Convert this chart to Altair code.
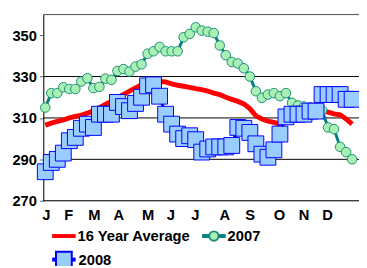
import altair as alt
import pandas as pd

weeks = list(range(1, 53))
avg16 = [306.5, 307.5, 308.3, 309, 310, 310.8, 311.3, 312.3, 313.5, 315,
         316.5, 318, 319.8, 321.3, 323, 324.5, 326, 326.8, 327.3, 327.6,
         327.4, 326.5, 325.8, 325.3, 324.8, 324.2, 323.7, 323, 322, 321.3,
         320, 319, 318, 316.8, 314.5, 311, 309.5, 308.5, 307.8, 307,
         308, 309, 310, 311, 312.5, 313.3, 313.3, 312.8, 312, 311.5,
         309.5, 307]
y2007 = [315, 322, 322, 324.8, 324, 324, 327.6, 329.2, 324.4, 325,
         329, 328.4, 332.7, 333.6, 332.4, 334.8, 335.9, 341, 342.2, 344.3,
         342.2, 342.2, 342.2, 349, 350.6, 353.8, 352.2, 351.7, 351, 345,
         340.3, 337, 336.3, 334, 330, 322.9, 319.7, 321.3, 322, 320.5,
         322, 317.3, 316, 315.5, 315, 314.5, 313.7, 305.4, 304.6, 296,
         293.5, 290]
y2008 = [284, 288.5, 290, 293, 299, 300.6, 305, 307, 305.4, 311.8,
         311.8, 311.8, 317.5, 315.5, 313.5, 317, 320, 325.5, 326, 320.5,
         311.8, 307, 302.2, 300, 301.4, 299.5, 293.5, 295, 296, 296,
         296, 296.7, 305.4, 305, 303, 297.5, 292.5, 291, 294.6, 302.2,
         310.5, 311.8, 311.8, 311.8, 313.3, 313.3, 321.3, 321.3, 321.3, 321.3,
         319, 319]
months = ["J", "F", "M", "A", "M", "J", "J", "A", "S", "O", "N", "D"]
month_pos = [1.16, 4.91, 9.15, 13.22, 18.11, 21.86, 25.93, 30.82, 35.06, 39.94, 44.02, 47.93]
y_ticks = [270, 290, 310, 330, 350]
grid_vals = [290, 310, 330]

FONT = "Liberation Sans"
W, H = 322, 190

df = pd.DataFrame({"week": weeks, "avg": avg16, "y2007": y2007, "y2008": y2008})
mdf = pd.DataFrame({"pos": month_pos, "m": months})
gdf = pd.DataFrame({"v": grid_vals})

xs = alt.Scale(domain=[0.674, 53.14], nice=False, zero=False)
ys = alt.Scale(domain=[270, 360], nice=False, zero=False)
yaxis = alt.Axis(values=y_ticks, title=None, grid=False, labelFont=FONT,
                 labelFontSize=15, labelFontWeight="bold", labelColor="#000",
                 tickSize=4, tickColor="#666", domainColor="#000", labelPadding=3)


def Y(field):
    return alt.Y(field, scale=ys, axis=yaxis)


def X(field):
    return alt.X(field, scale=xs, axis=None)


base = alt.Chart(df)

grid = alt.Chart(gdf).mark_rule(color="#000000", strokeWidth=1).encode(y=Y("v:Q"))
top = alt.Chart(alt.Data(values=[{"v": 360}])).mark_rule(color="#555555", strokeWidth=1).encode(
    y=Y("v:Q"))

avg_line = base.mark_line(color="#FF0000", strokeWidth=5).encode(x=X("week:Q"), y=Y("avg:Q"))
l07 = base.mark_line(color="#008080", strokeWidth=3).encode(x=X("week:Q"), y=Y("y2007:Q"))
p07 = base.mark_point(shape="circle", filled=True, fill="#A8F0B4", stroke="#1E8C78",
                      strokeWidth=1, size=95, opacity=1).encode(x=X("week:Q"), y=Y("y2007:Q"))
l08 = base.mark_line(color="#0000FF", strokeWidth=3).encode(x=X("week:Q"), y=Y("y2008:Q"))
p08 = base.mark_point(shape="square", filled=True, fill="#99CCFF", stroke="#0000FF",
                      strokeWidth=1, size=260, opacity=1).encode(x=X("week:Q"), y=Y("y2008:Q"))

bottom_axis = alt.Chart(alt.Data(values=[{"v": 270}])).mark_rule(color="#000", strokeWidth=1).encode(
    y=Y("v:Q"))

mlabels = alt.Chart(mdf).mark_text(font=FONT, fontSize=15, fontWeight="bold",
                                   color="#000", baseline="alphabetic", align="center").encode(
    x=X("pos:Q"), y=alt.value(210), text="m:N"
)

one = alt.Data(values=[{"a": 1}])
title = alt.Chart(one).mark_text(text="in Millions of Barrels", font=FONT, fontSize=21,
                                 fontWeight="bold", color="#1A1A8C", align="center",
                                 baseline="alphabetic").encode(x=alt.value(144), y=alt.value(-9))

leg_avg = alt.Chart(one).mark_rule(color="#FF0000", strokeWidth=4).encode(
    x=alt.value(9), x2=alt.value(33), y=alt.value(226))
leg_avg_t = alt.Chart(one).mark_text(text="16 Year Average", font=FONT, fontSize=15,
                                     fontWeight="bold", color="#000", align="left",
                                     baseline="alphabetic").encode(x=alt.value(35), y=alt.value(231.5))
leg07_l = alt.Chart(one).mark_rule(color="#008080", strokeWidth=4).encode(
    x=alt.value(162), x2=alt.value(186), y=alt.value(226))
leg07_p = alt.Chart(one).mark_point(shape="circle", filled=True, fill="#A8F0B4", stroke="#1E8C78",
                                    size=90, opacity=1).encode(x=alt.value(174), y=alt.value(226))
leg07_t = alt.Chart(one).mark_text(text="2007", font=FONT, fontSize=15, fontWeight="bold",
                                   color="#000", align="left", baseline="alphabetic").encode(
    x=alt.value(188), y=alt.value(231.5))
leg08_l = alt.Chart(one).mark_rule(color="#0000FF", strokeWidth=4).encode(
    x=alt.value(9), x2=alt.value(33), y=alt.value(250))
leg08_p = alt.Chart(one).mark_point(shape="square", filled=True, fill="#99CCFF", stroke="#0000FF",
                                    size=260, opacity=1).encode(x=alt.value(21), y=alt.value(250))
leg08_t = alt.Chart(one).mark_text(text="2008", font=FONT, fontSize=15, fontWeight="bold",
                                   color="#000", align="left", baseline="alphabetic").encode(
    x=alt.value(36), y=alt.value(255.5))

chart = alt.layer(
    grid, top, avg_line, l07, p07, l08, p08, bottom_axis, mlabels, title,
    leg_avg, leg_avg_t, leg07_l, leg07_p, leg07_t, leg08_l, leg08_p, leg08_t
).properties(
    width=W, height=H,
    autosize=alt.AutoSizeParams(type="none"),
    padding={"left": 36, "top": 4, "right": 0, "bottom": 64},
).configure_view(stroke=None).configure(background="white")

chart.save("out.html", embed_options={"renderer": "svg", "actions": False})
